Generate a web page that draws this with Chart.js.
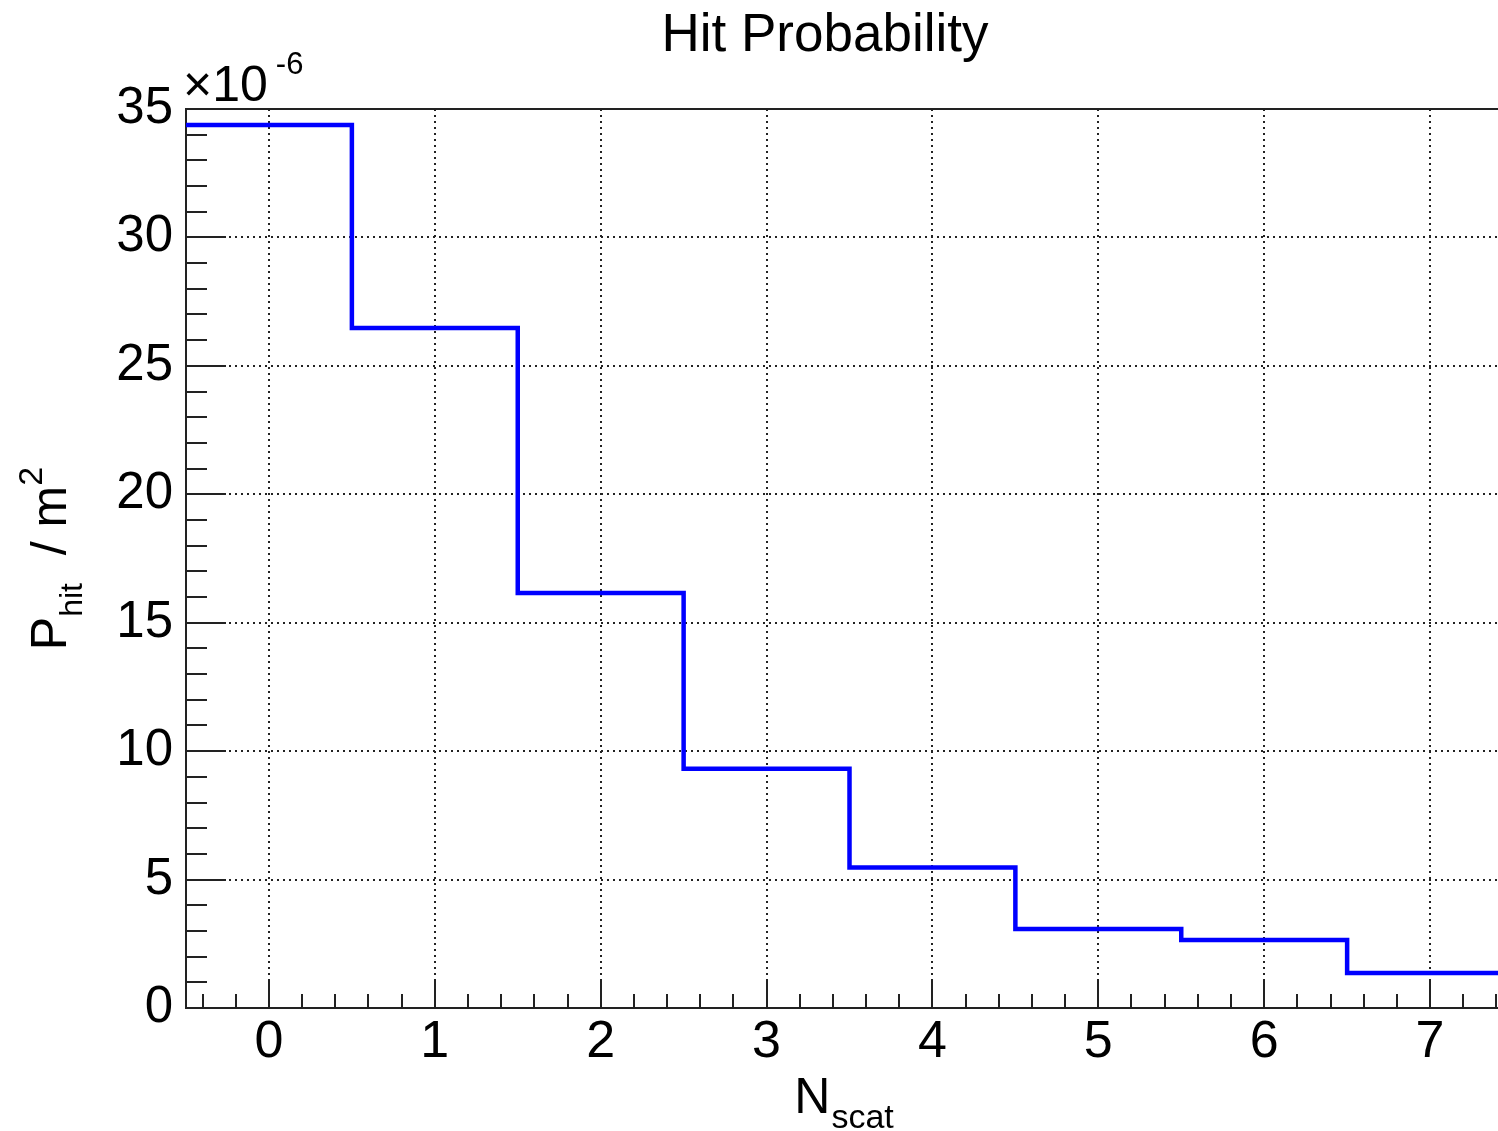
<!DOCTYPE html>
<html>
<head>
<meta charset="utf-8">
<title>Hit Probability</title>
<script src="https://cdn.jsdelivr.net/npm/chart.js@4/dist/chart.umd.min.js"></script>
<style>
  html, body { margin: 0; padding: 0; background: #fff; overflow: hidden; }
  #wrap { position: relative; width: 1560px; height: 1131px; }
  canvas { display: block; }
</style>
</head>
<body>
<div id="wrap"><canvas id="chart" width="1560" height="1131" style="width:1560px;height:1131px"></canvas></div>
<script>
// Histogram: hit probability per m^2 versus number of scatterings (units of 1e-6)
const nScat = [0, 1, 2, 3, 4, 5, 6, 7];
const hitProb = [34.38, 26.47, 16.16, 9.31, 5.47, 3.08, 2.65, 1.36];
const binWidth = 1;
const xTickValues = [0, 1, 2, 3, 4, 5, 6, 7];
const yTickValues = [0, 5, 10, 15, 20, 25, 30, 35];

const FONT = '"Liberation Sans", Arial, Helvetica, sans-serif';

// Outline of the histogram: each bin contributes its left and right edge at its height
const outline = [];
nScat.forEach((c, i) => {
  outline.push({ x: c - binWidth / 2, y: hitProb[i] });
  outline.push({ x: c + binWidth / 2, y: hitProb[i] });
});

// Inward tick marks plus the top/right frame
const frameTicks = {
  id: 'frameTicks',
  afterDatasetsDraw(chart) {
    const { ctx, chartArea: a, scales: { x, y } } = chart;
    ctx.save();
    ctx.strokeStyle = '#222';
    ctx.lineWidth = 2;
    ctx.beginPath();
    ctx.moveTo(a.left, a.top);
    ctx.lineTo(a.right, a.top);
    ctx.lineTo(a.right, a.bottom);
    ctx.stroke();

    ctx.beginPath();
    const xk0 = Math.ceil(x.min / 0.2 - 1e-9), xk1 = Math.floor(x.max / 0.2 + 1e-9);
    for (let k = xk0; k <= xk1; k++) {
      const px = Math.round(x.getPixelForValue(k * 0.2));
      const len = (k % 5 === 0) ? 27 : 14;
      ctx.moveTo(px, a.bottom);
      ctx.lineTo(px, a.bottom - len);
    }
    for (let k = Math.ceil(y.min); k <= Math.floor(y.max); k++) {
      const py = Math.round(y.getPixelForValue(k));
      const len = (k % 5 === 0) ? 40 : 21;
      ctx.moveTo(a.left, py);
      ctx.lineTo(a.left + len, py);
    }
    ctx.stroke();
    ctx.restore();
  }
};

// Title, exponent and axis titles with sub/superscripts
const texts = {
  id: 'texts',
  afterDraw(chart) {
    const { ctx, chartArea: a } = chart;
    ctx.save();
    ctx.fillStyle = '#000';
    ctx.textBaseline = 'alphabetic';

    // title
    ctx.font = `53px ${FONT}`;
    ctx.textAlign = 'center';
    ctx.fillText('Hit Probability', 825, 51);

    // exponent of the y axis
    ctx.textAlign = 'left';
    ctx.font = `50px ${FONT}`;
    ctx.fillText('\u00d710', 183, 101);
    const w10 = ctx.measureText('\u00d710').width;
    ctx.font = `31px ${FONT}`;
    ctx.fillText('-6', 183 + w10 + 8, 74);

    // x axis title: N_scat
    const big = `50px ${FONT}`, small = `34px ${FONT}`;
    ctx.font = big; const wN = ctx.measureText('N').width;
    ctx.font = small; const wS = ctx.measureText('scat').width;
    let x0 = (a.left + a.right) / 2 - 6 - (wN + wS) / 2;
    ctx.font = big; ctx.fillText('N', x0, 1113);
    ctx.font = small; ctx.fillText('scat', x0 + wN + 1, 1128);

    // y axis title: P_hit / m^2 (rotated)
    ctx.translate(66, (a.top + a.bottom) / 2);
    ctx.rotate(-Math.PI / 2);
    const parts = [
      { t: 'P', f: big, dy: 0 },
      { t: 'hit', f: `32px ${FONT}`, dy: 16 },
      { t: '  / m', f: big, dy: 0 },
      { t: '2', f: `34px ${FONT}`, dy: -24 }
    ];
    let total = 0;
    parts.forEach(p => { ctx.font = p.f; p.w = ctx.measureText(p.t).width; total += p.w; });
    let cx = -total / 2;
    parts.forEach(p => { ctx.font = p.f; ctx.fillText(p.t, cx, p.dy); cx += p.w; });
    ctx.restore();
  }
};

new Chart(document.getElementById('chart'), {
  type: 'line',
  data: {
    datasets: [{
      data: outline,
      borderColor: '#0000ff',
      borderWidth: 4.5,
      borderJoinStyle: 'miter',
      borderCapStyle: 'butt',
      pointRadius: 0,
      fill: false,
      tension: 0
    }]
  },
  options: {
    responsive: false,
    animation: false,
    devicePixelRatio: 1,
    layout: { padding: { top: 109, right: 47, left: 0, bottom: 0 } },
    plugins: { legend: { display: false }, tooltip: { enabled: false }, title: { display: false } },
    scales: {
      x: {
        type: 'linear',
        min: -0.5,
        max: 7.5,
        afterFit(scale) { scale.height = 123; },
        afterBuildTicks(scale) { scale.ticks = xTickValues.map(v => ({ value: v })); },
        ticks: { font: { family: FONT, size: 52 }, color: '#000', padding: 3, maxRotation: 0, autoSkip: false },
        grid: { drawTicks: false, color: '#222', lineWidth: 2 },
        border: { display: true, color: '#222', width: 2, dash: [2, 4] }
      },
      y: {
        type: 'linear',
        min: 0,
        max: 35,
        afterFit(scale) { scale.width = 186; },
        afterBuildTicks(scale) { scale.ticks = yTickValues.map(v => ({ value: v })); },
        ticks: { font: { family: FONT, size: 51 }, color: '#000', padding: 13, autoSkip: false },
        grid: { drawTicks: false, color: '#222', lineWidth: 2 },
        border: { display: true, color: '#222', width: 2, dash: [2, 4] }
      }
    }
  },
  plugins: [frameTicks, texts]
});
</script>
</body>
</html>
